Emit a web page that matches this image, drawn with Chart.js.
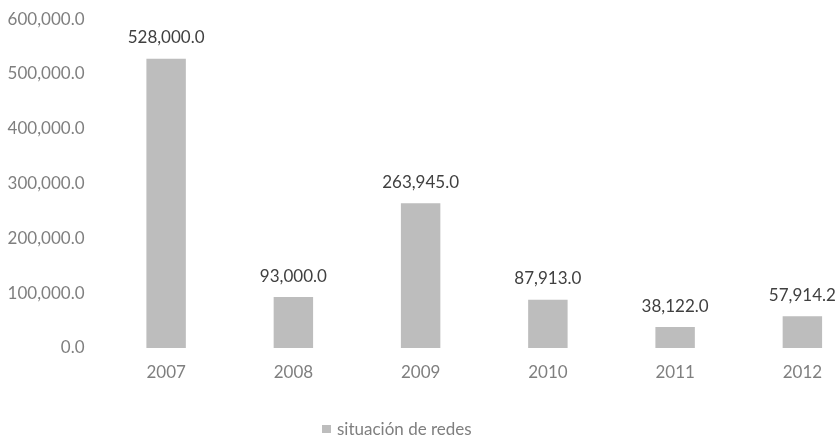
<!DOCTYPE html>
<html>
<head>
<meta charset="utf-8">
<script src="https://cdn.jsdelivr.net/npm/chart.js@4/dist/chart.umd.min.js"></script>
<style>
  html, body { margin: 0; padding: 0; background: #fff; overflow: hidden; }
  #wrap { position: relative; width: 838px; height: 437px; overflow: hidden; }
  #redesChart { position: absolute; left: 0; top: -9px; }
  #legend {
    position: absolute; left: 322px; top: 418px;
    font-family: Lato, sans-serif; font-size: 17px; color: #7f7f7f;
    display: flex; align-items: center; white-space: nowrap;
  }
  #legend span.box { width: 9px; height: 8px; background: #bdbdbd; margin-right: 6px; }
</style>
</head>
<body>
<div id="wrap">
  <canvas id="redesChart" width="870" height="446"></canvas>
  <div id="legend"><span class="box"></span><span>situación de redes</span></div>
</div>
<script>
  const years = ['2007', '2008', '2009', '2010', '2011', '2012'];
  const redes = [528000.0, 93000.0, 263945.0, 87913.0, 38122.0, 57914.2];
  const yTicks = [0, 100000, 200000, 300000, 400000, 500000, 600000];

  function fmt(v) {
    return v.toLocaleString('en-US', { minimumFractionDigits: 1, maximumFractionDigits: 1 });
  }

  // etiquetas de valor encima de cada barra
  const valueLabels = {
    id: 'valueLabels',
    afterDatasetsDraw(chart) {
      const ctx = chart.ctx;
      const meta = chart.getDatasetMeta(0);
      ctx.save();
      ctx.font = '17px Lato, sans-serif';
      ctx.fillStyle = '#404040';
      ctx.textAlign = 'center';
      ctx.textBaseline = 'middle';
      meta.data.forEach((bar, i) => {
        ctx.fillText(fmt(redes[i]), bar.x, bar.y - 21);
      });
      ctx.restore();
    }
  };

  const ctx = document.getElementById('redesChart').getContext('2d');
  new Chart(ctx, {
    type: 'bar',
    data: {
      labels: years,
      datasets: [{
        label: 'situación de redes',
        data: redes,
        backgroundColor: '#bdbdbd',
        borderWidth: 0,
        barPercentage: 0.31,
        categoryPercentage: 1.0
      }]
    },
    options: {
      responsive: false,
      animation: false,
      layout: { padding: { top: 0, right: 4, bottom: 0, left: 0 } },
      plugins: {
        legend: { display: false },
        tooltip: { enabled: false }
      },
      scales: {
        x: {
          grid: { display: false, drawTicks: false },
          border: { display: false },
          ticks: {
            color: '#7f7f7f',
            padding: 14,
            font: { family: 'Lato, sans-serif', size: 17 }
          },
          afterFit(scale) { scale.height = 89; }
        },
        y: {
          min: 0,
          max: 600000,
          grid: { display: false, drawTicks: false },
          border: { display: false },
          afterBuildTicks(scale) { scale.ticks = yTicks.map(v => ({ value: v })); },
          ticks: {
            color: '#7f7f7f',
            padding: 18,
            font: { family: 'Lato, sans-serif', size: 17 },
            callback: v => fmt(v)
          },
          afterFit(scale) { scale.width = 102.5; }
        }
      }
    },
    plugins: [valueLabels]
  });
</script>
</body>
</html>
